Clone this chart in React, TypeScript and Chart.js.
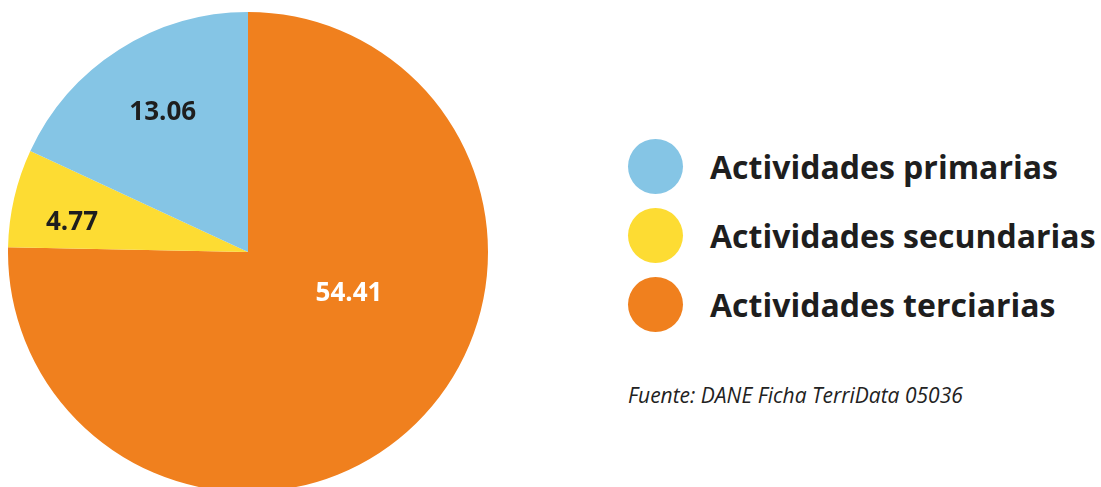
import React, { useEffect, useRef } from "react";
import { Chart, registerables } from "chart.js";

Chart.register(...registerables);

// Data (chart drawing order: clockwise from the top)
const categories = ["Actividades terciarias", "Actividades secundarias", "Actividades primarias"];
const values = [54.41, 4.77, 13.06];
const valueLabels = ["54.41", "4.77", "13.06"];
const colors = ["#F0801E", "#FDDC33", "#85C5E5"];
const labelColors = ["#FFFFFF", "#1E1E1E", "#1E1E1E"];
// Legend order as shown
const legendOrder = [2, 1, 0];
const sourceText = "Fuente: DANE Ficha TerriData 05036";

// Label placement style: fraction of radius, angle shift (deg)
const labelRadiusFrac = [0.454, 0.744, 0.683];
const labelAngleShift = [-23.6, -3.3, 1.2];

const valueLabelPlugin = {
  id: "valueLabels",
  afterDatasetsDraw(chart: any) {
    const meta = chart.getDatasetMeta(0);
    const ctx = chart.ctx;
    ctx.save();
    ctx.font = "bold 26px 'Open Sans'";
    ctx.textAlign = "center";
    ctx.textBaseline = "middle";
    meta.data.forEach((arc: any, i: number) => {
      const { x, y, startAngle, endAngle, outerRadius } = arc.getProps(
        ["x", "y", "startAngle", "endAngle", "outerRadius"],
        true
      );
      const mid = (startAngle + endAngle) / 2 + (labelAngleShift[i] * Math.PI) / 180;
      const r = outerRadius * labelRadiusFrac[i];
      ctx.fillStyle = labelColors[i];
      ctx.fillText(valueLabels[i], x + Math.cos(mid) * r, y + Math.sin(mid) * r + 1);
    });
    ctx.restore();
  },
};

export default function App() {
  const canvasRef = useRef<HTMLCanvasElement | null>(null);

  useEffect(() => {
    if (!canvasRef.current) return;
    const chart = new Chart(canvasRef.current, {
      type: "pie",
      data: {
        labels: categories,
        datasets: [
          {
            data: values,
            backgroundColor: colors,
            borderWidth: 0,
            hoverOffset: 0,
            offset: 0,
          },
        ],
      },
      options: {
        responsive: false,
        animation: false,
        events: [],
        layout: { padding: 0 },
        plugins: {
          legend: { display: false },
          tooltip: { enabled: false },
        },
      },
      plugins: [valueLabelPlugin],
    });
    return () => chart.destroy();
  }, []);

  return (
    <div
      style={{
        position: "fixed",
        inset: 0,
        overflow: "hidden",
        background: "#ffffff",
        fontFamily: "'Open Sans', sans-serif",
      }}
    >
      <canvas
        ref={canvasRef}
        width={480}
        height={480}
        style={{ position: "absolute", left: 8, top: 12, width: 480, height: 480 }}
      />
      <div style={{ position: "absolute", left: 628, top: 139 }}>
        {legendOrder.map((idx, k) => (
          <div
            key={idx}
            style={{
              display: "flex",
              alignItems: "center",
              height: 55,
              marginBottom: k < legendOrder.length - 1 ? 14 : 0,
            }}
          >
            <span
              style={{
                display: "inline-block",
                width: 55,
                height: 55,
                borderRadius: "50%",
                background: colors[idx],
                flex: "0 0 auto",
              }}
            />
            <span
              style={{
                marginLeft: 27,
                fontWeight: 700,
                fontSize: 32,
                color: "#1E1E1E",
                whiteSpace: "nowrap",
                lineHeight: "55px",
              }}
            >
              {categories[idx]}
            </span>
          </div>
        ))}
      </div>
      <div
        style={{
          position: "absolute",
          left: 628,
          top: 380,
          fontStyle: "italic",
          fontSize: 21,
          color: "#222222",
          whiteSpace: "nowrap",
          lineHeight: "30px",
        }}
      >
        {sourceText}
      </div>
    </div>
  );
}
